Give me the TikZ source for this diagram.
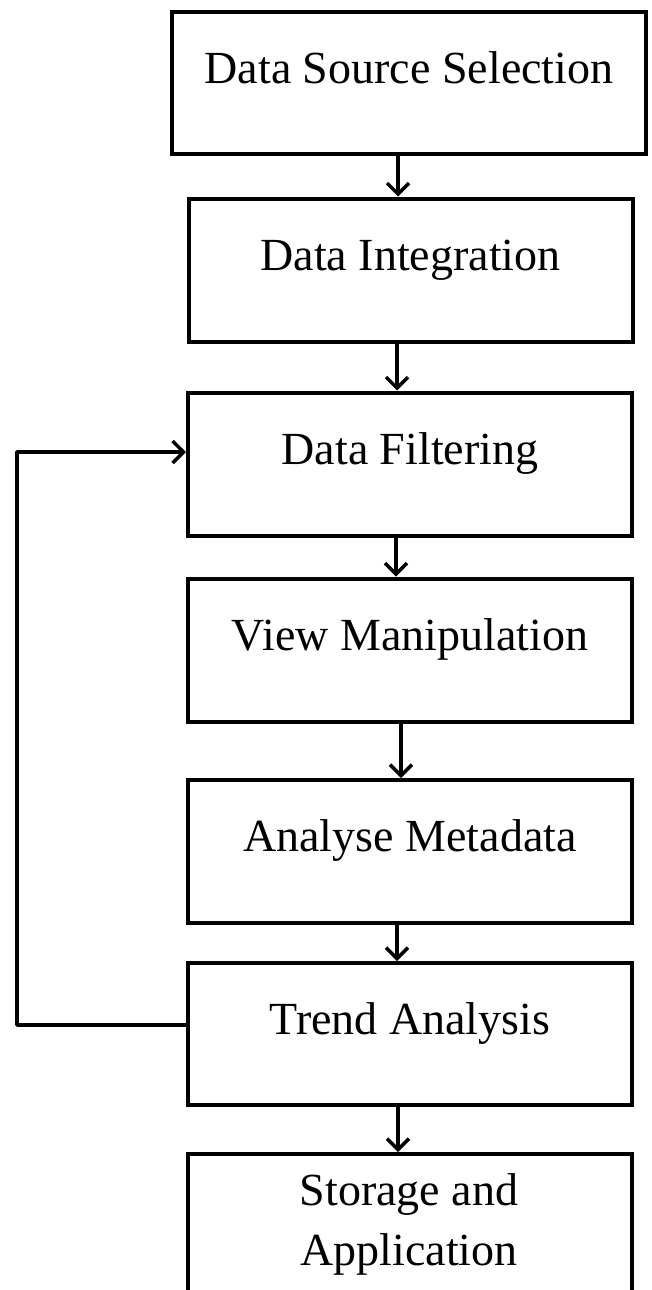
\documentclass[tikz,border=0pt]{standalone}
\usepackage{fontspec}
\setmainfont{Liberation Serif}
\usetikzlibrary{arrows.meta}
\begin{document}
\begin{tikzpicture}[x=1pt,y=-1pt,
  stepbox/.style={draw=black, line width=4pt, rectangle, inner sep=0pt,
    minimum width=444pt, minimum height=143pt, text height=20pt, text depth=20pt,
    font=\fontsize{46}{60}\selectfont},
  txt/.style={inner sep=0pt, font=\fontsize{46}{60}\selectfont},
  arr/.style={line width=3.5pt, -{Straight Barb[length=11pt,width=22pt]}}]
\useasboundingbox (0,0) rectangle (652,1290);
\clip (0,0) rectangle (652,1290);
\fill[white] (0,0) rectangle (652,1290);
\node[stepbox, minimum width=474pt, minimum height=142pt] (b1) at (409,83) {Data Source Selection};
\node[stepbox] (b2) at (410.5,270) {Data Integration};
\node[stepbox] (b3) at (410,464) {Data Filtering};
\node[stepbox] (b4) at (410,650) {View Manipulation};
\node[stepbox] (b5) at (410,851.5) {Analyse Metadata};
\node[stepbox, minimum height=142pt] (b6) at (410,1034) {Trend Analysis};
\node[stepbox, minimum height=160pt, anchor=north] (b7) at (410,1152) {};
\node[txt, anchor=base] (t7a) at (409,1205) {Storage and};
\node[txt, anchor=base] (t7b) at (409,1265) {Application};
\coordinate (a1) at (398,0);
\coordinate (a2) at (397,0);
\coordinate (a3) at (396,0);
\coordinate (a4) at (401,0);
\coordinate (a5) at (397,0);
\coordinate (a6) at (398,0);
\draw[arr] (b1.south -| a1) -- (b2.north -| a1);
\draw[arr] (b2.south -| a2) -- (b3.north -| a2);
\draw[arr] (b3.south -| a3) -- (b4.north -| a3);
\draw[arr] (b4.south -| a4) -- (b5.north -| a4);
\draw[arr] (b5.south -| a5) -- (b6.north -| a5);
\draw[arr] (b6.south -| a6) -- (b7.north -| a6);
\coordinate (fbb) at (17,1025);
\coordinate (fbt) at (17,452);
\draw[arr, line join=round] ([yshift=9pt]b6.west) -- (fbb) -- (fbt) -- ([yshift=12pt]b3.west);
\end{tikzpicture}
\end{document}
